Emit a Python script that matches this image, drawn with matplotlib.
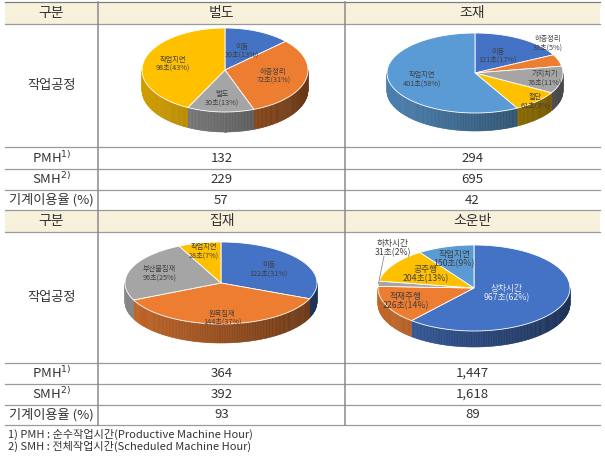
import numpy as np
import matplotlib.pyplot as plt
from matplotlib.patches import Polygon, Rectangle
from matplotlib.colors import to_rgb

plt.rcParams['font.family'] = ['Noto Sans CJK KR', 'DejaVu Sans']

# ---- data ----
headers_top = ["벌도", "조재"]
headers_bottom = ["집재", "소운반"]
pmh = [132, 294, 364, 1447]
smh = [229, 695, 392, 1618]
util = [57, 42, 93, 89]

beoldo_labels = ["이동", "하층정리", "벌도", "작업지연"]
beoldo_sec = [30, 72, 30, 98]
beoldo_pct = [13, 31, 13, 43]

jojae_labels = ["이동", "하층정리", "가지치기", "절단", "작업지연"]
jojae_sec = [121, 33, 76, 61, 401]
jojae_pct = [17, 5, 11, 9, 58]

jipjae_labels = ["이동", "원목집재", "부산물집재", "작업지연"]
jipjae_sec = [122, 144, 96, 28]
jipjae_pct = [31, 37, 25, 7]

soun_labels = ["상차시간", "적재주행", "하차시간", "공주행", "작업지연"]
soun_sec = [967, 226, 31, 204, 150]
soun_pct = [62, 14, 2, 13, 9]

BLUE, ORANGE, GRAY, YELLOW, LBLUE = "#4472C4", "#ED7D31", "#A5A5A5", "#FFC000", "#5B9BD5"

# ---- canvas in pixel units ----
W, H = 605, 457
fig = plt.figure(figsize=(6.05, 4.57), dpi=100)
ax = fig.add_axes([0, 0, 1, 1])
ax.set_xlim(0, W)
ax.set_ylim(H, 0)
ax.axis('off')

x_left, x_c1, x_c2, x_right = 5, 98, 345, 600
rows = [2, 24, 147, 169, 190, 210, 232, 363, 384, 405, 425]
line_col = "#9a9a9a"
txt_col = "#333333"

# header bands
for y0, y1 in [(rows[0], rows[1]), (rows[5], rows[6])]:
    ax.add_patch(Rectangle((x_left, y0), x_right - x_left, y1 - y0, fc="#F7F1DC", ec="none"))
for i, y in enumerate(rows):
    ax.plot([x_left, x_right], [y, y], color="#7f7f7f" if i == 0 else line_col, lw=0.9)
for x in (x_c1, x_c2):
    ax.plot([x, x], [rows[0], rows[-1]], color="#8a8a8a", lw=1.1)

cx0 = (x_left + x_c1) / 2
cx1 = (x_c1 + x_c2) / 2
cx2 = (x_c2 + x_right) / 2


def mid(a, b):
    return (a + b) / 2


def block(r0, heads, idx):
    ax.text(cx0, mid(rows[r0], rows[r0 + 1]), "구분", ha='center', va='center', fontsize=10, color=txt_col)
    ax.text(cx1, mid(rows[r0], rows[r0 + 1]), heads[0], ha='center', va='center', fontsize=10, color=txt_col)
    ax.text(cx2, mid(rows[r0], rows[r0 + 1]), heads[1], ha='center', va='center', fontsize=10, color=txt_col)
    ax.text(cx0, mid(rows[r0 + 1], rows[r0 + 2]), "작업공정", ha='center', va='center', fontsize=9.5, color=txt_col)
    names = ["PMH$^{1)}$", "SMH$^{2)}$", "기계이용율 (%)"]
    vals = [pmh, smh, util]
    for k in range(3):
        yc = mid(rows[r0 + 2 + k], rows[r0 + 3 + k])
        ax.text(cx0, yc, names[k], ha='center', va='center', fontsize=9.5, color=txt_col)
        ax.text(cx1, yc, f"{vals[k][idx]:,}", ha='center', va='center', fontsize=9.5, color=txt_col)
        ax.text(cx2, yc, f"{vals[k][idx + 1]:,}", ha='center', va='center', fontsize=9.5, color=txt_col)


block(0, headers_top, 0)
block(5, headers_bottom, 2)


def shade(c, f):
    r, g, b = to_rgb(c)
    return (r * f, g * f, b * f)


def pie3d(cx, cy, a, b, depth, labels, secs, pcts, colors, lab_r, fs=5.2,
          overrides=None, lab_colors=None):
    fr = np.array(secs, float) / sum(secs)
    bounds = np.concatenate([[0], np.cumsum(fr)]) * 360
    # side walls (front half only)
    for i in range(len(secs)):
        lo, hi = max(bounds[i], 90), min(bounds[i + 1], 270)
        if hi <= lo:
            continue
        ts = np.linspace(lo, hi, max(3, int(hi - lo)))
        for k in range(len(ts) - 1):
            th = np.radians(ts[k:k + 2])
            x = cx + a * np.sin(th)
            y = cy - b * np.cos(th)
            f = 0.82 - 0.38 * (np.sin(th.mean()) + 1) / 2
            col = shade(colors[i], f)
            ax.add_patch(Polygon([(x[0], y[0]), (x[1], y[1]), (x[1], y[1] + depth), (x[0], y[0] + depth)],
                                 closed=True, fc=col, ec=col, lw=0.4))
    # tops
    for i in range(len(secs)):
        ts = np.radians(np.linspace(bounds[i], bounds[i + 1], 120))
        pts = [(cx, cy)] + list(zip(cx + a * np.sin(ts), cy - b * np.cos(ts)))
        ax.add_patch(Polygon(pts, closed=True, fc=colors[i], ec="white", lw=0.6))
    # labels
    for i in range(len(secs)):
        ang, r = mid(bounds[i], bounds[i + 1]), lab_r[i]
        if overrides and i in overrides:
            ang, r = overrides[i]
        th = np.radians(ang)
        lx, ly = cx + a * r * np.sin(th), cy - b * r * np.cos(th)
        c = lab_colors[i] if lab_colors else "#404040"
        ax.text(lx, ly, f"{labels[i]}\n{secs[i]}초({pcts[i]}%)", ha='center', va='center',
                fontsize=fs, color=c, linespacing=1.05)
    return bounds


pie3d(225, 70, 83, 42, 20, beoldo_labels, beoldo_sec, beoldo_pct,
      [BLUE, ORANGE, GRAY, YELLOW], [0.5, 0.6, 0.67, 0.65])
pie3d(475, 73, 88, 40, 18, jojae_labels, jojae_sec, jojae_pct,
      [BLUE, ORANGE, GRAY, YELLOW, LBLUE], [0.5, 1.0, 0.8, 0.98, 0.62],
      overrides={1: (48, 1.12)})
pie3d(221, 283, 96, 41, 19, jipjae_labels, jipjae_sec, jipjae_pct,
      [BLUE, ORANGE, GRAY, YELLOW], [0.6, 0.85, 0.68, 0.8])
bnd = pie3d(474, 288, 96, 43, 16, soun_labels, soun_sec, soun_pct,
            [BLUE, ORANGE, GRAY, YELLOW, LBLUE], [0.36, 0.78, 1.0, 0.6, 0.7], fs=6.3,
            overrides={2: (318, 1.26)},
            lab_colors=["#e6ecf6", "#404040", "#404040", "#404040", "#404040"])
# leader line for the thin slice
th = np.radians(mid(bnd[2], bnd[3]))
ax.plot([384, 474 + 96 * np.sin(th)], [256, 288 - 43 * np.cos(th)], color="#8c8c8c", lw=0.6)

# footnotes
ax.text(8, 434, "1) PMH : 순수작업시간(Productive Machine Hour)", ha='left', va='center', fontsize=8, color=txt_col)
ax.text(8, 446, "2) SMH : 전체작업시간(Scheduled Machine Hour)", ha='left', va='center', fontsize=8, color=txt_col)

fig.savefig("out.png", dpi=100)
